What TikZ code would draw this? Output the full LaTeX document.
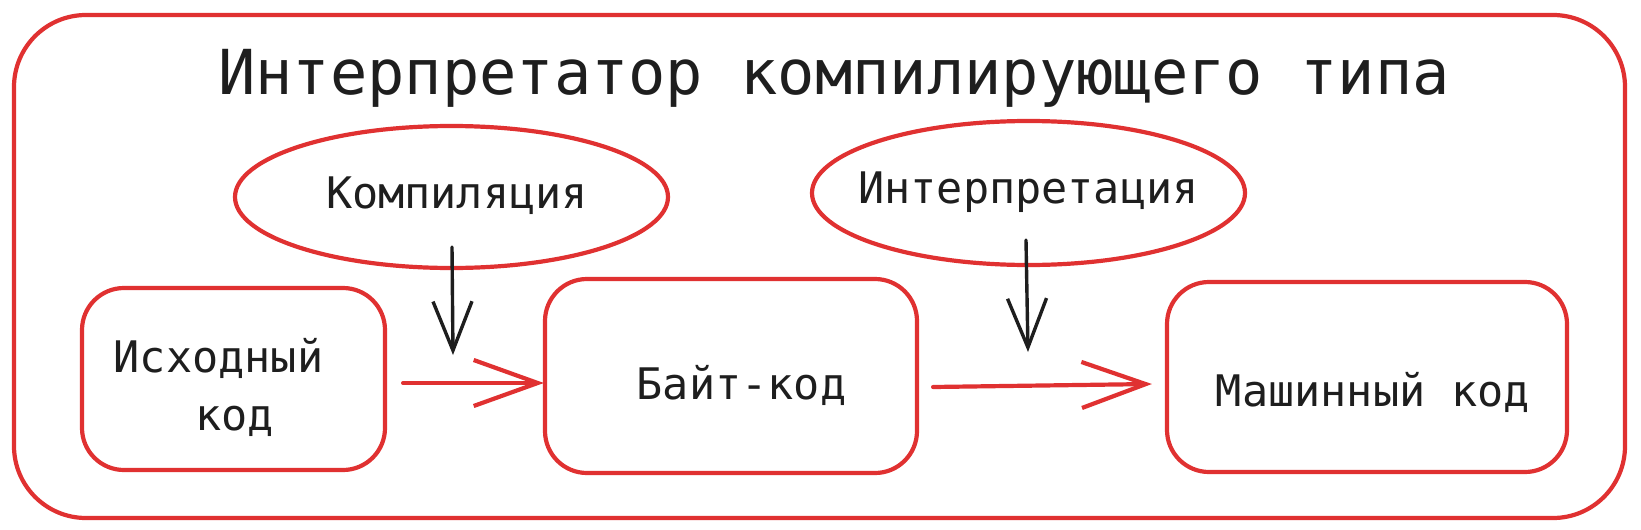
\documentclass[tikz,border=0pt]{standalone}
\usepackage{fontspec}
\newfontfamily\codefont{DejaVu Sans Mono}
\newcommand\ttlfnt{\codefont\fontsize{62}{74}\selectfont}
\newcommand\lblfnt{\codefont\fontsize{43.5}{58}\selectfont}
\usetikzlibrary{shapes.geometric,arrows.meta}
\definecolor{exred}{HTML}{E03131}
\definecolor{exink}{HTML}{1E1E1E}
\tikzset{
  frame/.style={draw=exred, line width=4.2pt, rounded corners=72pt, inner sep=0pt},
  codebox/.style={draw=exred, line width=4.2pt, rounded corners=42pt,
    font=\lblfnt, text=exink, inner sep=0pt},
  stage/.style={ellipse, draw=exred, line width=4.2pt, font=\lblfnt, text=exink, inner sep=0pt},
  flow/.style={draw=exred, line width=4.2pt, line cap=round, line join=round,
    -{Straight Barb[length=64pt, width=46pt]}},
  push/.style={draw=exink, line width=3.4pt, line cap=round, line join=round,
    -{Straight Barb[length=49pt, width=39pt]}},
  heading/.style={font=\ttlfnt, text=exink, inner sep=0pt, anchor=base}
}
\begin{document}
\begin{tikzpicture}[x=1pt,y=-1pt]
\useasboundingbox (0,0) rectangle (1641,530);
\node[frame, minimum width=1611pt, minimum height=503pt] (frame) at (819.5,266.5) {};
\node[heading] (title) at (834,94) {Интерпретатор компилирующего типа};
\node[stage, minimum width=433pt, minimum height=142pt, text height=32pt, text depth=10pt]
  (e1) at (451.5,197) {\makebox[0pt]{\hspace*{11pt}Компиляция}};
\node[stage, minimum width=433pt, minimum height=144pt, text height=30pt, text depth=10pt]
  (e2) at (1028.5,193) {\makebox[0pt]{Интерпретация}};
\node[codebox, minimum width=303pt, minimum height=182pt, text height=40pt, text depth=54pt]
  (b1) at (233.5,379) {\vtop{\baselineskip=58pt\lineskiplimit=-100pt
    \hbox to 0pt{\hss Исходный\hskip30pt\hss}\hbox to 0pt{\hss\hskip2pt код\hss}}};
\node[codebox, minimum width=372pt, minimum height=194pt, text height=56pt, text depth=10pt]
  (b2) at (731,376) {\hspace*{21pt}Байт-код};
\node[codebox, minimum width=400pt, minimum height=190pt, text height=68pt, text depth=10pt]
  (b3) at (1367,377) {\hspace*{12pt}Машинный код};
\coordinate (t1) at (453,355);
\coordinate (t2) at (1028,352);
\draw[flow] ([shift={(16,4)}]b1.east) -- ([shift={(1,7)}]b2.west);
\draw[flow] ([shift={(14,11)}]b2.east) -- ([shift={(-13,7)}]b3.west);
\draw[push] ([shift={(0.5,-23)}]e1.south) -- (t1);
\draw[push] ([shift={(-2.5,-27)}]e2.south) -- (t2);
\end{tikzpicture}
\end{document}
